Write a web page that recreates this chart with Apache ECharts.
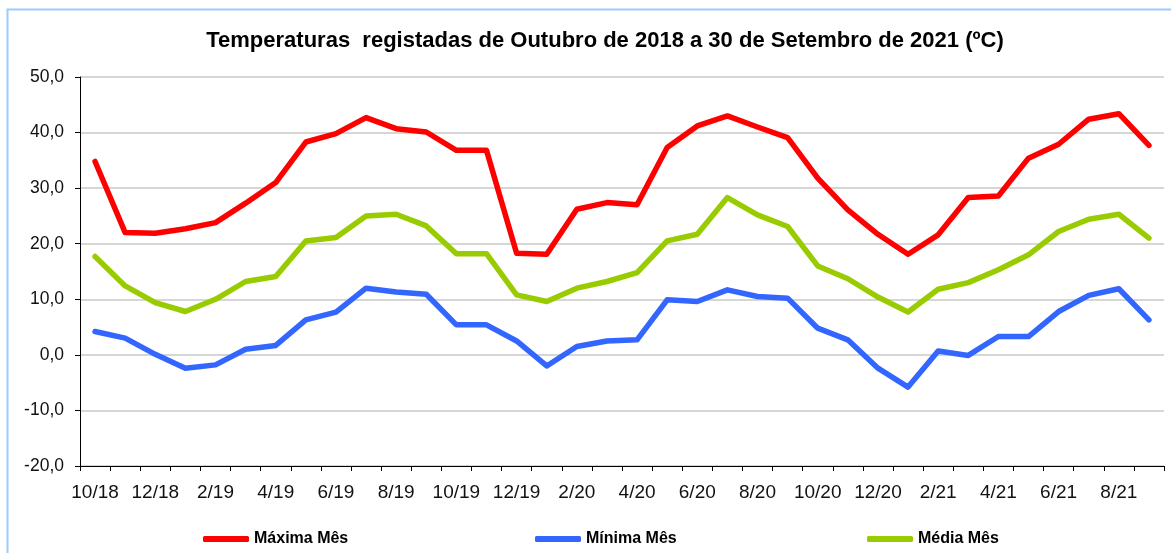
<!DOCTYPE html>
<html>
<head>
<meta charset="utf-8">
<script src="https://cdn.jsdelivr.net/npm/echarts@6/dist/echarts.min.js"></script>
<style>
  html, body { margin: 0; padding: 0; background: #fff; }
  #chart { width: 1171px; height: 553px; }
</style>
</head>
<body>
<div id="chart"></div>
<script>
// meses de 10/18 a 9/21
const months = [
  "10/18", "11/18", "12/18", "1/19", "2/19", "3/19", "4/19", "5/19", "6/19", "7/19", "8/19", "9/19",
  "10/19", "11/19", "12/19", "1/20", "2/20", "3/20", "4/20", "5/20", "6/20", "7/20", "8/20", "9/20",
  "10/20", "11/20", "12/20", "1/21", "2/21", "3/21", "4/21", "5/21", "6/21", "7/21", "8/21", "9/21"
];
const maxima = [
  34.8, 22.0, 21.9, 22.7, 23.8, 27.3, 31.0, 38.3, 39.8, 42.7, 40.7, 40.1,
  36.8, 36.8, 18.3, 18.1, 26.2, 27.4, 27.0, 37.3, 41.2, 43.0, 41.0, 39.1,
  31.8, 26.1, 21.7, 18.1, 21.6, 28.3, 28.6, 35.4, 37.9, 42.4, 43.4, 37.7
];
const minima = [
  4.2, 3.0, 0.1, -2.4, -1.8, 1.0, 1.7, 6.3, 7.7, 12.0, 11.3, 10.9,
  5.4, 5.4, 2.5, -2.0, 1.5, 2.5, 2.7, 9.9, 9.6, 11.7, 10.5, 10.2,
  4.8, 2.7, -2.4, -5.8, 0.7, -0.1, 3.3, 3.3, 7.8, 10.7, 11.9, 6.3
];
const media = [
  17.7, 12.4, 9.4, 7.8, 10.0, 13.2, 14.1, 20.5, 21.1, 25.0, 25.3, 23.2,
  18.2, 18.2, 10.8, 9.6, 12.0, 13.2, 14.8, 20.5, 21.7, 28.3, 25.2, 23.1,
  16.0, 13.7, 10.4, 7.7, 11.8, 13.0, 15.3, 18.0, 22.2, 24.4, 25.3, 21.0
];

const font = "Arial, 'Liberation Sans', sans-serif";
const legendText = { fontFamily: font, fontWeight: "bold", fontSize: 16, color: "#000" };

function makeLine(name, data, color) {
  return {
    name: name,
    type: "line",
    data: data,
    symbol: "none",
    lineStyle: { color: color, width: 5.5, join: "round", cap: "round" },
    itemStyle: { color: color },
  };
}

function makeLegend(name, left) {
  return {
    data: [{ name: name, icon: "roundRect" }],
    left: left,
    top: 526,
    itemWidth: 46,
    itemHeight: 6,
    itemGap: 5,
    textStyle: legendText,
    selectedMode: false,
  };
}

const myChart = echarts.init(document.getElementById("chart"));
myChart.setOption({
  animation: false,
  backgroundColor: "#fff",
  title: {
    text: "Temperaturas  registadas de Outubro de 2018 a 30 de Setembro de 2021 (ºC)",
    left: 600,
    textAlign: "center",
    top: 25,
    textStyle: { fontFamily: font, fontWeight: "bold", fontSize: 22, color: "#000" },
  },
  graphic: [{
    type: "rect",
    shape: { x: 7.5, y: 9.5, width: 1300, height: 700 },
    style: { fill: null, stroke: "#99CCFF", lineWidth: 2 },
    silent: true,
  }],
  grid: { left: 80, right: 7, top: 77, bottom: 87 },
  legend: [
    makeLegend("Máxima Mês", 198),
    makeLegend("Mínima Mês", 530),
    makeLegend("Média Mês", 862),
  ],
  xAxis: {
    type: "category",
    data: months,
    boundaryGap: true,
    axisLine: { onZero: false, lineStyle: { color: "#000", width: 1 } },
    axisTick: { show: true, interval: 0, length: 5, lineStyle: { color: "#000" } },
    axisLabel: {
      interval: 1,
      color: "#111",
      fontFamily: font,
      fontSize: 19,
      margin: 17,
    },
  },
  yAxis: {
    type: "value",
    min: -20,
    max: 50,
    interval: 10,
    axisLine: { show: true, lineStyle: { color: "#000", width: 1 } },
    axisTick: { show: true, length: 5, lineStyle: { color: "#000" } },
    axisLabel: {
      color: "#111",
      fontFamily: font,
      fontSize: 17.5,
      margin: 16,
      formatter: (v) => v.toFixed(1).replace(".", ","),
    },
    splitLine: { lineStyle: { color: "#c8c8c8", width: 1.5 } },
  },
  series: [
    makeLine("Máxima Mês", maxima, "#FF0000"),
    makeLine("Mínima Mês", minima, "#3366FF"),
    makeLine("Média Mês", media, "#99CC00"),
  ],
});
</script>
</body>
</html>
